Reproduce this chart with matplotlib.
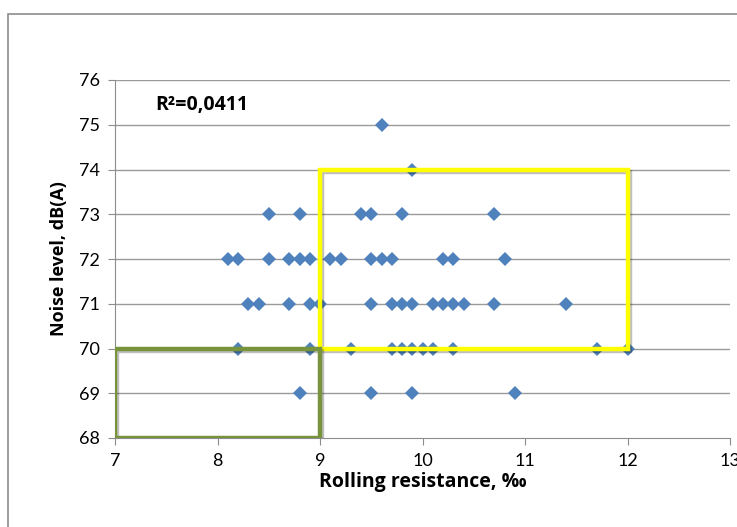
import matplotlib.pyplot as plt
from matplotlib.patches import Rectangle
import matplotlib.patheffects as pe

plt.rcParams['font.family'] = ['Lato', 'DejaVu Sans']
bold_font = ['Open Sans', 'DejaVu Sans']

# measured pairs grouped by noise level, dB(A)
noise_75 = [9.6]
noise_74 = [9.9]
noise_73 = [8.5, 8.8, 9.4, 9.5, 9.8, 10.7]
noise_72 = [8.1, 8.2, 8.5, 8.7, 8.8, 8.9, 9.1, 9.2, 9.5, 9.6, 9.7, 10.2, 10.3, 10.8]
noise_71 = [8.3, 8.4, 8.7, 8.9, 9.0, 9.5, 9.7, 9.8, 9.9, 10.1, 10.2, 10.3, 10.4, 10.7, 11.4]
noise_70 = [8.2, 8.9, 9.3, 9.7, 9.8, 9.9, 10.0, 10.1, 10.3, 11.7, 12.0]
noise_69 = [8.8, 9.5, 9.9, 10.9]

groups = {75: noise_75, 74: noise_74, 73: noise_73, 72: noise_72,
          71: noise_71, 70: noise_70, 69: noise_69}
rolling = []
noise = []
for level, xs in groups.items():
    rolling += xs
    noise += [level] * len(xs)

r2_text = 'R²=0,0411'
x_ticks = [7, 8, 9, 10, 11, 12, 13]
y_ticks = [68, 69, 70, 71, 72, 73, 74, 75, 76]

fig = plt.figure(figsize=(7.37, 5.27), dpi=100)
ax = fig.add_axes([115 / 737, 1 - 438 / 527, 615 / 737, 358 / 527])

# chart area frame
fig.patches.append(Rectangle((8 / 737, -0.1), 1.2, 1 - 14 / 527 + 0.1,
                             transform=fig.transFigure, fill=False,
                             edgecolor='#8c8c8c', lw=1.2))

for y in y_ticks[1:]:
    ax.axhline(y, color='#9a9a9a', lw=1, zorder=1)

# highlighted regions
shadow = [pe.SimpleLineShadow(offset=(1.5, -1.5), alpha=0.25), pe.Normal()]
ax.add_patch(Rectangle((9, 70), 3, 4, fill=False, edgecolor='#ffff00', lw=3.2,
                       zorder=3, path_effects=shadow))
ax.add_patch(Rectangle((7, 68), 2, 2, fill=False, edgecolor='#77933c', lw=3.2,
                       zorder=3, path_effects=shadow))

ax.plot(rolling, noise, 'D', color='#4f81bd', markersize=7.2, markeredgewidth=0,
        zorder=2, clip_on=False)

ax.set_xlim(7, 13)
ax.set_ylim(68, 76)
ax.set_xticks(x_ticks)
ax.set_yticks(y_ticks)
ax.tick_params(axis='both', direction='out', length=5, color='#8c8c8c',
               labelsize=13, pad=6)
for side in ['top', 'right']:
    ax.spines[side].set_visible(False)
for side in ['left', 'bottom']:
    ax.spines[side].set_color('#8c8c8c')

ax.set_xlabel('Rolling resistance, ‰', fontsize=14, fontweight='bold',
              family=bold_font, labelpad=2)
ax.set_ylabel('Noise level, dB(A)', fontsize=13, fontweight='bold',
              family=bold_font, labelpad=8)

ax.text(7.39, 75.44, r2_text, fontsize=14, fontweight='bold', family=bold_font,
        va='center')

fig.savefig('out.png', dpi=100)
